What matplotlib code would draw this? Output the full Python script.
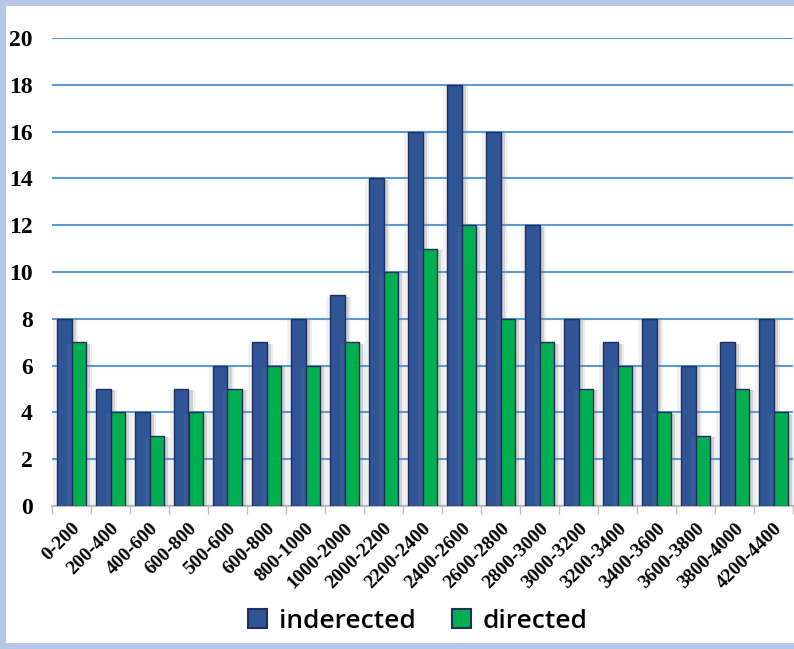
import numpy as np
import matplotlib
matplotlib.use("Agg")
import matplotlib.pyplot as plt
import matplotlib.patheffects as pe
from matplotlib.patches import Rectangle, Patch

# Data
categories = ["0-200", "200-400", "400-600", "600-800", "500-600", "600-800",
              "800-1000", "1000-2000", "2000-2200", "2200-2400", "2400-2600",
              "2600-2800", "2800-3000", "3000-3200", "3200-3400", "3400-3600",
              "3600-3800", "3800-4000", "4200-4400"]
inderected = [8, 5, 4, 5, 6, 7, 8, 9, 14, 16, 18, 16, 12, 8, 7, 8, 6, 7, 8]
directed = [7, 4, 3, 4, 5, 6, 6, 7, 10, 11, 12, 8, 7, 5, 6, 4, 3, 5, 4]
y_ticks = [0, 2, 4, 6, 8, 10, 12, 14, 16, 18, 20]

BLUE = "#2F5597"
GREEN = "#00B050"
EDGE = "#1F2F5F"
FRAME = "#B4C7E7"

fig = plt.figure(figsize=(7.94, 6.49), dpi=100)
# light blue frame on left, top, bottom (right side is cut off in the original)
fig.patches.append(Rectangle((0, 0), 6 / 794, 1, transform=fig.transFigure,
                             facecolor=FRAME, edgecolor="none", zorder=-10))
fig.patches.append(Rectangle((0, 1 - 6 / 649), 1, 6 / 649, transform=fig.transFigure,
                             facecolor=FRAME, edgecolor="none", zorder=-10))
fig.patches.append(Rectangle((0, 0), 1, 6 / 649, transform=fig.transFigure,
                             facecolor=FRAME, edgecolor="none", zorder=-10))

ax = fig.add_axes([52 / 794, 143 / 649, 741 / 794, 468 / 649])
x = np.arange(len(categories))
w = 0.36
# soft gray shadow beside each bar
shadow = [pe.SimplePatchShadow(offset=(5, -1), shadow_rgbFace="#909090", alpha=0.15),
          pe.SimplePatchShadow(offset=(-3, -1), shadow_rgbFace="#909090", alpha=0.12),
          pe.SimplePatchShadow(offset=(3, -1), shadow_rgbFace="#808080", alpha=0.25),
          pe.Normal()]
b1 = ax.bar(x - w / 2, inderected, w, color=BLUE, edgecolor=EDGE, linewidth=1, zorder=3)
b2 = ax.bar(x + w / 2, directed, w, color=GREEN, edgecolor=EDGE, linewidth=1, zorder=3)
for b in list(b1) + list(b2):
    b.set_path_effects(shadow)

ax.set_xlim(-0.5, len(categories) - 0.5)
ax.set_ylim(0, 20)
ax.set_yticks(y_ticks)
ax.set_yticklabels([str(v) for v in y_ticks], fontfamily="Liberation Serif",
                   fontweight="bold", fontsize=17)
ax.grid(axis="y", color="#5B9BD5", linewidth=1.5, zorder=0)
ax.tick_params(axis="y", length=0, pad=14)

ax.set_xticks(np.arange(len(categories) + 1) - 0.5, minor=False)
ax.set_xticklabels([])
ax.set_xticks(x, minor=True)
ax.set_xticklabels(categories, minor=True, rotation=45, ha="right",
                   rotation_mode="anchor", fontfamily="Liberation Serif",
                   fontweight="bold", fontsize=14)
ax.tick_params(axis="x", which="major", length=6, color="#BFBFBF", width=1)
ax.tick_params(axis="x", which="minor", length=0, pad=10)

for s in ["top", "right", "left"]:
    ax.spines[s].set_visible(False)
ax.spines["bottom"].set_color("#BFBFBF")
ax.spines["bottom"].set_linewidth(1.5)

handles = [Patch(facecolor=BLUE, edgecolor=EDGE, linewidth=1.5, label="inderected"),
           Patch(facecolor=GREEN, edgecolor=EDGE, linewidth=1.5, label="directed")]
fig.legend(handles=handles, loc="center", bbox_to_anchor=(418 / 794, 1 - 621 / 649),
           ncol=2, frameon=False,
           prop={"family": "Open Sans", "size": 19, "weight": "semibold"},
           handlelength=0.7, handleheight=0.7, handletextpad=0.45, columnspacing=1.4)

fig.savefig("out.png", dpi=100)
